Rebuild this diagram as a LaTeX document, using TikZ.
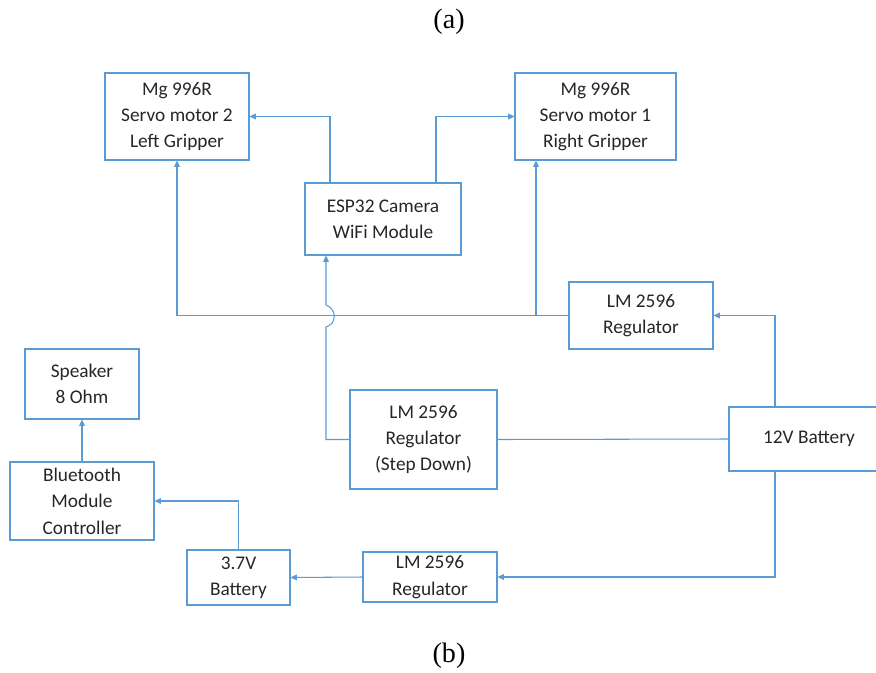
\documentclass[tikz,border=0pt]{standalone}
\usepackage{fontspec}
\setmainfont{Carlito}
\newfontfamily\capfont{Liberation Serif}
\usepackage{xcolor}
\usetikzlibrary{arrows.meta,calc}
\definecolor{linkblue}{HTML}{5B9BD5}

\begin{document}
\begin{tikzpicture}[x=0.03cm,y=-0.03cm,
  box/.style={draw=linkblue, line width=0.9pt, align=center, inner sep=0pt,
    font=\fontsize{16.5}{22.5}\selectfont, text=black!85},
  link/.style={draw=linkblue, line width=0.9pt},
  >={Triangle[length=5.5pt,width=5pt]}]
\useasboundingbox (0,0) rectangle (876,672);
\node[font=\capfont\fontsize{24}{26}\selectfont] (capa) at (449,22) {(a)};
\node[font=\capfont\fontsize{24}{26}\selectfont] (capb) at (449,656) {(b)};
\node[box, minimum width=144*0.03cm, minimum height=87*0.03cm] (mgL) at (177,116.5) {Mg 996R\\Servo motor 2\\Left Gripper};
\node[box, minimum width=161*0.03cm, minimum height=87*0.03cm] (mgR) at (595.5,116.5) {Mg 996R\\Servo motor 1\\Right Gripper};
\node[box, minimum width=156*0.03cm, minimum height=72*0.03cm] (esp) at (383,219) {ESP32 Camera\\WiFi Module};
\node[box, minimum width=144*0.03cm, minimum height=67*0.03cm] (lmTop) at (641,315.5) {LM 2596\\Regulator};
\node[box, minimum width=114*0.03cm, minimum height=70*0.03cm] (spk) at (82,384) {Speaker\\8 Ohm};
\node[box, minimum width=147*0.03cm, minimum height=99*0.03cm] (lmMid) at (423.5,439.5) {LM 2596\\Regulator\\(Step Down)};
\node[box, minimum width=160*0.03cm, minimum height=64*0.03cm] (bat12) at (809,439) {12V Battery};
\node[box, minimum width=144*0.03cm, minimum height=78*0.03cm] (bt) at (82,501) {Bluetooth\\Module\\Controller};
\node[box, minimum width=103*0.03cm, minimum height=55*0.03cm] (bat37) at (238.5,577.5) {3.7V\\Battery};
\node[box, minimum width=134*0.03cm, minimum height=50*0.03cm] (lmBot) at (430,577) {LM 2596\\Regulator};
\coordinate (tapR) at (536,315.5);
\coordinate (hopB) at (326,327);
\coordinate (hopT) at (326,305);
\draw[link,->] ($(esp.north)+(-53,0)$) |- (mgL.east);
\draw[link,->] ($(esp.north)+(53,0)$) |- (mgR.west);
\draw[link,->] (lmTop.west) -| (mgL.south);
\draw[link,->] (tapR) -- (tapR |- mgR.south);
\draw[link,->] ($(bat12.north)+(-34,0)$) |- (lmTop.east);
\draw[link,->] (lmMid.west) -| (hopB) .. controls (337,324) and (337,309) .. (hopT) -- (esp.south -| hopT);
\draw[link] (bat12.west) -- (lmMid.east);
\draw[link,->] ($(bat12.south)+(-34,0)$) |- (lmBot.east);
\draw[link,->] (lmBot.west) -- (bat37.east);
\draw[link,->] (bat37.north) |- (bt.east);
\draw[link,->] (bt.north) -- (spk.south);
\end{tikzpicture}
\end{document}
